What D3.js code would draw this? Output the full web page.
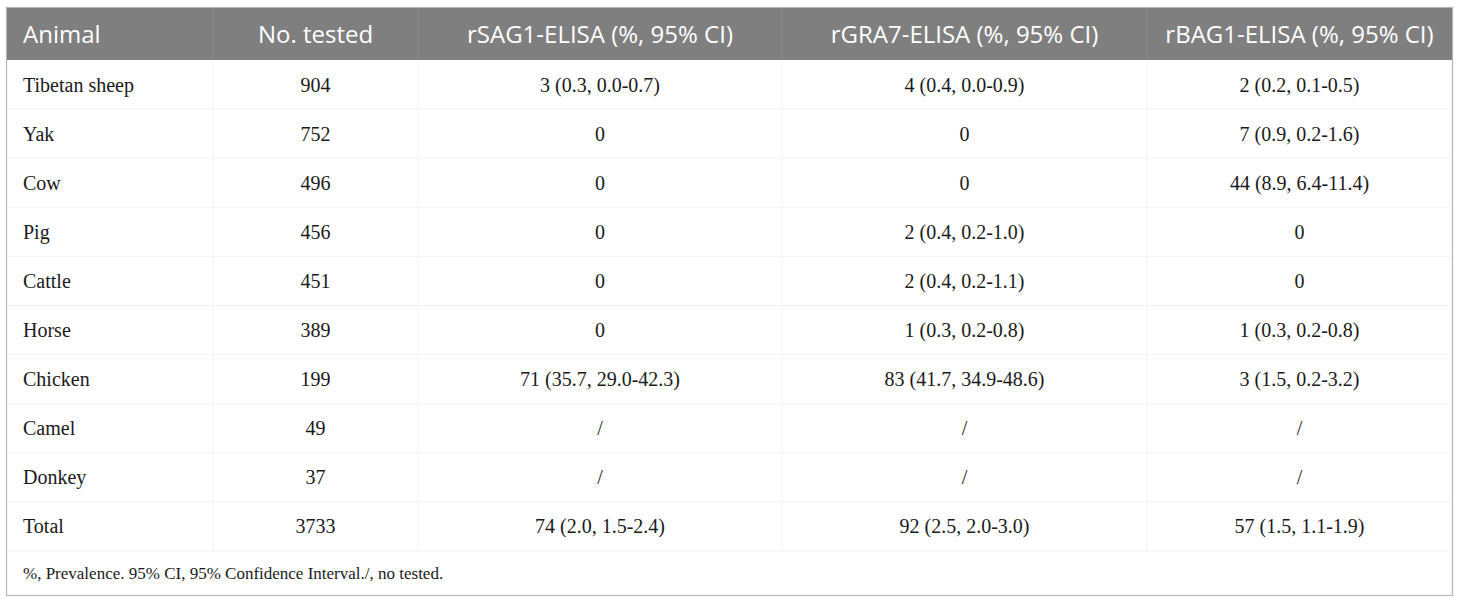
<!DOCTYPE html>
<html>
<head>
<meta charset="utf-8">
<script src="https://cdn.jsdelivr.net/npm/d3@7"></script>
<style>
  body { margin: 0; background: #fff; }
  svg { display: block; }
</style>
</head>
<body>
<svg width="1460" height="602"></svg>
<script>
const headers = ['Animal', 'No. tested', 'rSAG1-ELISA (%, 95% CI)', 'rGRA7-ELISA (%, 95% CI)', 'rBAG1-ELISA (%, 95% CI)'];
const animals = ['Tibetan sheep', 'Yak', 'Cow', 'Pig', 'Cattle', 'Horse', 'Chicken', 'Camel', 'Donkey', 'Total'];
const tested = [904, 752, 496, 456, 451, 389, 199, 49, 37, 3733];
const sag1 = ['3 (0.3, 0.0-0.7)', '0', '0', '0', '0', '0', '71 (35.7, 29.0-42.3)', '/', '/', '74 (2.0, 1.5-2.4)'];
const gra7 = ['4 (0.4, 0.0-0.9)', '0', '0', '2 (0.4, 0.2-1.0)', '2 (0.4, 0.2-1.1)', '1 (0.3, 0.2-0.8)', '83 (41.7, 34.9-48.6)', '/', '/', '92 (2.5, 2.0-3.0)'];
const bag1 = ['2 (0.2, 0.1-0.5)', '7 (0.9, 0.2-1.6)', '44 (8.9, 6.4-11.4)', '0', '0', '1 (0.3, 0.2-0.8)', '3 (1.5, 0.2-3.2)', '/', '/', '57 (1.5, 1.1-1.9)'];
const footnote = '%, Prevalence. 95% CI, 95% Confidence Interval./, no tested.';

// column edges of the table
const colEdges = [7, 213, 418, 782, 1147, 1452];
const tLeft = 7, tRight = 1452, tTop = 8, headH = 52, bodyBottom = 551, tBottom = 595;

const svg = d3.select('svg');

const rows = animals.map((a, i) => [a, String(tested[i]), sag1[i], gra7[i], bag1[i]]);

const yScale = d3.scaleBand()
  .domain(d3.range(rows.length))
  .range([tTop + headH, bodyBottom]);

// outer frame
svg.append('rect')
  .attr('x', tLeft - 0.5)
  .attr('y', tTop - 0.5)
  .attr('width', tRight - tLeft + 1)
  .attr('height', tBottom - tTop + 1)
  .attr('fill', '#fff')
  .attr('stroke', '#b5b5b5')
  .attr('stroke-width', 1.2);

// header band
svg.append('rect')
  .attr('x', tLeft)
  .attr('y', tTop)
  .attr('width', tRight - tLeft)
  .attr('height', headH)
  .attr('fill', '#7f7f7f');

// faint header column separators
svg.append('g')
  .selectAll('line')
  .data(colEdges.slice(1, -1))
  .enter()
  .append('line')
  .attr('x1', d => d).attr('x2', d => d)
  .attr('y1', tTop).attr('y2', tTop + headH)
  .attr('stroke', '#8a8a8a');

// body grid lines
svg.append('g')
  .selectAll('line')
  .data(colEdges.slice(1, -1))
  .enter()
  .append('line')
  .attr('x1', d => d).attr('x2', d => d)
  .attr('y1', tTop + headH).attr('y2', bodyBottom)
  .attr('stroke', '#f2f2f2');

svg.append('g')
  .selectAll('line')
  .data(d3.range(1, rows.length + 1))
  .enter()
  .append('line')
  .attr('x1', tLeft).attr('x2', tRight)
  .attr('y1', d => yScale(d - 1) + yScale.bandwidth())
  .attr('y2', d => yScale(d - 1) + yScale.bandwidth())
  .attr('stroke', '#f2f2f2');

const colX = (j) => j === 0 ? colEdges[0] + 16 : (colEdges[j] + colEdges[j + 1]) / 2;

// header text
svg.append('g')
  .selectAll('text')
  .data(headers)
  .enter()
  .append('text')
  .attr('x', (d, j) => colX(j))
  .attr('y', tTop + headH / 2)
  .attr('dy', '0.36em')
  .attr('text-anchor', (d, j) => j === 0 ? 'start' : 'middle')
  .attr('fill', '#fff')
  .attr('font-family', '"Open Sans", sans-serif')
  .attr('font-size', 24)
  .text(d => d);

// body cells
const rowG = svg.append('g')
  .selectAll('g')
  .data(rows)
  .enter()
  .append('g')
  .attr('transform', (d, i) => `translate(0, ${yScale(i) + yScale.bandwidth() / 2})`);

rowG.selectAll('text')
  .data(d => d)
  .enter()
  .append('text')
  .attr('x', (d, j) => colX(j))
  .attr('dy', '0.35em')
  .attr('text-anchor', (d, j) => j === 0 ? 'start' : 'middle')
  .attr('fill', '#1a1a1a')
  .attr('font-family', '"Liberation Serif", "Times New Roman", serif')
  .attr('font-size', 20)
  .text(d => d);

svg.append('text')
  .attr('x', tLeft + 16)
  .attr('y', (bodyBottom + tBottom) / 2)
  .attr('dy', '0.35em')
  .attr('fill', '#1a1a1a')
  .attr('font-family', '"Liberation Serif", "Times New Roman", serif')
  .attr('font-size', 17)
  .text(footnote);
</script>
</body>
</html>
